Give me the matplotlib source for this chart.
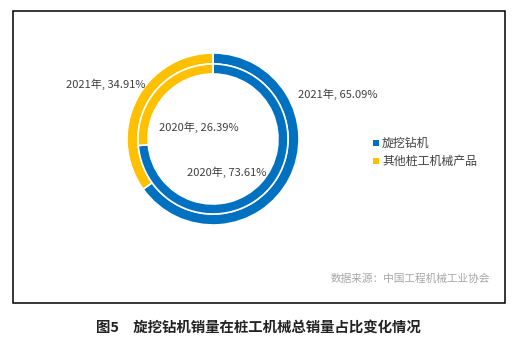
import matplotlib.pyplot as plt
from matplotlib.patches import Rectangle

plt.rcParams['font.family'] = ['Noto Sans CJK SC', 'DejaVu Sans']

# share of rotary drilling rigs in total piling machinery sales (%)
years = ['2021年', '2020年']
rig_share = [65.09, 73.61]
other_share = [34.91, 26.39]
legend_labels = ['旋挖钻机', '其他桩工机械产品']
source_text = '数据来源：中国工程机械工业协会'
caption = '图5\u3000旋挖钻机销量在桩工机械总销量占比变化情况'

BLUE = '#0070C0'
YELLOW = '#FFC000'
W, H = 520, 340

fig = plt.figure(figsize=(W / 100, H / 100), dpi=100)
ax = fig.add_axes([0, 0, 1, 1])

def py(y):
    # pixel row (from top) -> data y
    return H - y

cx, cy = 213, py(139)
rings = [(86, 11), (75, 10)]  # outer = 2021, inner = 2020

for (r, w), rig, other in zip(rings, rig_share, other_share):
    ax.pie([rig, other], center=(cx, cy), radius=r, startangle=90,
           counterclock=False, colors=[BLUE, YELLOW],
           wedgeprops=dict(width=w, edgecolor='white', linewidth=1.2))

ax.set_xlim(0, W)
ax.set_ylim(0, H)
ax.set_aspect('auto')
ax.axis('off')

# data labels
label_pos = {
    ('2021年', 0): (338, 94),
    ('2021年', 1): (106, 84),
    ('2020年', 0): (227, 172),
    ('2020年', 1): (199, 127),
}
for year, rig, other in zip(years, rig_share, other_share):
    for k, v in enumerate([rig, other]):
        x, y = label_pos[(year, k)]
        ax.text(x, py(y), f'{year}, {v:.2f}%', fontsize=8, color='#404040',
                ha='center', va='center')

# legend
for i, (lab, col) in enumerate(zip(legend_labels, [BLUE, YELLOW])):
    y = py(143 + i * 18)
    ax.scatter([376], [y], marker='s', s=14, color=col, linewidths=0)
    ax.text(382, y, lab, fontsize=8.6, color='#404040', ha='left', va='center')

ax.text(490, py(279), source_text, fontsize=7.7, color='#a6a6a6',
        ha='right', va='center')

# frame around the chart
ax.add_patch(Rectangle((13, py(303)), 492, 292, fill=False,
                       edgecolor='black', linewidth=1.1))

ax.text(96, py(328), caption, fontsize=10.4, fontweight='bold',
        color='#222222', ha='left', va='center')

fig.savefig('out.png', dpi=100, facecolor='white')
